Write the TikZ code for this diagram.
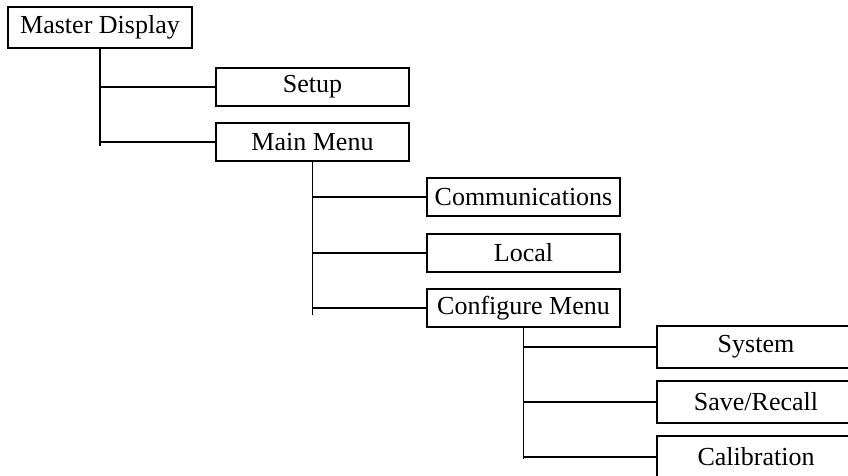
\documentclass[tikz,border=0pt]{standalone}
\usepackage{fontspec}
\setmainfont{Liberation Serif}
\begin{document}
\begin{tikzpicture}[x=1pt,y=-1pt,
  menubox/.style={draw, line width=1.4pt, minimum width=193pt, minimum height=38pt, inner sep=0pt, font=\fontsize{26}{26}\selectfont},
  link/.style={line width=1.4pt}]
\useasboundingbox (0,0) rectangle (848,475);
\node[menubox, minimum width=184pt, minimum height=41pt] (master) at (100,27.5) {Master Display};
\node[menubox] (setup) at (312.5,87) {Setup};
\node[menubox] (main) at (312.5,142) {Main Menu};
\node[menubox] (comm) at (523.5,197) {Communications};
\node[menubox] (local) at (523.5,253) {Local};
\node[menubox] (conf) at (523.5,308) {Configure Menu};
\node[menubox, minimum width=198pt, minimum height=42pt, text width=193pt, align=center] (system) at (756,347) {System};
\node[menubox, minimum width=198pt, minimum height=42pt, text width=193pt, align=center] (save) at (756,402) {Save/Recall};
\node[menubox, minimum width=198pt, minimum height=42pt, text width=193pt, align=center] (calib) at (756,457) {Calibration};
\coordinate (e1) at ([yshift=-4pt]master.south |- main.west);
\coordinate (e2) at ([yshift=-7pt]main.south |- conf.west);
\coordinate (e3) at ([yshift=-2pt]conf.south |- calib.west);
\draw[link] (master.south) -- (e1);
\draw[link] (master.south |- setup.west) -- (setup.west);
\draw[link] (master.south |- main.west) -- (main.west);
\draw[link] (main.south) -- (e2);
\draw[link] (main.south |- comm.west) -- (comm.west);
\draw[link] (main.south |- local.west) -- (local.west);
\draw[link] (main.south |- conf.west) -- (conf.west);
\draw[link] (conf.south) -- (e3);
\draw[link] (conf.south |- system.west) -- (system.west);
\draw[link] (conf.south |- save.west) -- (save.west);
\draw[link] (conf.south |- calib.west) -- (calib.west);
\end{tikzpicture}
\end{document}
